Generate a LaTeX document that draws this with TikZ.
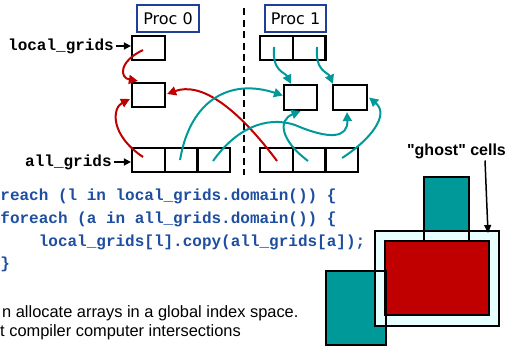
\documentclass[tikz,border=0pt]{standalone}
\usepackage{fontspec}
\setmainfont{Liberation Sans}
\newfontfamily\codefont{Liberation Mono}
\newfontfamily\procfont{DejaVu Sans}
\usetikzlibrary{arrows.meta}
\definecolor{codeblue}{HTML}{1F4EA0}
\definecolor{procblue}{HTML}{1F3F99}
\definecolor{gred}{HTML}{C00000}
\definecolor{gteal}{HTML}{009999}
\definecolor{gcyan}{HTML}{E8FFFF}
\begin{document}
\begin{tikzpicture}[x=1pt,y=-1pt,
  cell/.style={draw=black,line width=2.2pt,minimum width=33pt,minimum height=24pt,inner sep=0pt},
  acell/.style={cell,minimum width=32.7pt},
  procbox/.style={draw=procblue,line width=2pt,fill=white,minimum width=62pt,minimum height=27pt,inner sep=0pt,font=\procfont\fontsize{16}{18}\selectfont},
  code/.style={text=codeblue,inner sep=0pt,anchor=base west,font=\codefont\bfseries\fontsize{16}{20}\selectfont},
  lbl/.style={text=black,inner sep=0pt,anchor=base west,font=\codefont\bfseries\fontsize{16}{20}\selectfont},
  plain/.style={inner sep=0pt,anchor=base west,font=\fontsize{16.4}{19}\selectfont},
  lblarrow/.style={-{Triangle[length=7pt,width=7pt]},line width=1.6pt,shorten <=2pt},
  redarrow/.style={-{Triangle[length=9pt,width=9pt]},line width=2pt,draw=gred},
  tealarrow/.style={-{Triangle[length=9pt,width=9pt]},line width=2pt,draw=gteal},
  area/.style={inner sep=0pt,outer sep=0pt}
]
\useasboundingbox (0,0) rectangle (508,348);

% dashed separator
\coordinate (dtop) at (244,8);
\coordinate (dbot) at (244,175);
\draw[line width=2pt,dash pattern=on 7pt off 4.5pt] (dtop) -- (dbot);

% processor labels
\node[procbox] (proc0) at (168,18.5) {Proc 0};
\node[procbox,minimum width=61pt] (proc1) at (295.5,18.5) {Proc 1};

% Proc 0 grids
\node[cell] (p0l) at (148.5,48) {};
\node[cell] (p0m) at (148.5,95) {};
\node[acell] (p0a1) at (148.35,160) {};
\node[acell] (p0a2) at (181.05,160) {};
\node[acell] (p0a3) at (213.75,160) {};

% Proc 1 grids
\node[acell] (p1l1) at (276.35,48) {};
\node[acell] (p1l2) at (309.05,48) {};
\node[cell,minimum height=25pt] (p1mA) at (300.5,97.5) {};
\node[cell,minimum width=34pt,minimum height=25pt] (p1mB) at (350,97.5) {};
\node[acell] (p1a1) at (276.35,160) {};
\node[acell] (p1a2) at (309.05,160) {};
\node[acell] (p1a3) at (341.75,160) {};

% labels
\node[lbl] (lg) at (8,50.5) {local\_grids};
\node[lbl] (ag) at (25,166) {all\_grids};
\coordinate (lgend) at ([shift={(0,-2)}]p0l.west);
\coordinate (agend) at ([shift={(0,2)}]p0a1.west);
\draw[lblarrow] (lg.east |- lgend) -- (lgend);
\draw[lblarrow] (ag.east |- agend) -- (agend);

% red connectors
\draw[redarrow] ([shift={(-5.5,2)}]p0l.center) .. controls (118,62) and (120,78) .. ([shift={(7,-1)}]p0m.north west);
\draw[redarrow] ([shift={(-5.3,-3)}]p0a1.center) .. controls (110,135) and (112,108) .. ([shift={(-1,4)}]p0m.west);
\draw[redarrow] ([shift={(0.7,1)}]p1a1.center) .. controls (235,105) and (200,82) .. ([shift={(1,-1)}]p0m.east);

% teal connectors
\draw[tealarrow] ([shift={(-1,0)}]p0a2.center) .. controls (190,100) and (230,78) .. ([shift={(0,-2)}]p1mA.west);
\draw[tealarrow] ([shift={(-0.7,1)}]p0a3.center) .. controls (235,130) and (265,115) .. (295,125)
   .. controls (330,140) and (348,138) .. ([shift={(-3,1)}]p1mB.south);
\draw[tealarrow] ([shift={(-1,1)}]p1a2.center) .. controls (280,140) and (278,120) .. (p1mA.south);
\draw[tealarrow] ([shift={(0.3,-2)}]p1a3.center) .. controls (370,140) and (390,115) .. ([shift={(1,0)}]p1mB.east);
\draw[tealarrow] ([shift={(-2.3,-1)}]p1l1.center) .. controls (272,72) and (285,72) .. ([shift={(-9.5,0)}]p1mA.north);
\draw[tealarrow] ([shift={(8,-1)}]p1l2.center) .. controls (315,72) and (328,72) .. ([shift={(1,0)}]p1mB.north west);

% code
\node[code] (c1) at (0.2,200.7) {reach (l in local\_grids.domain()) \{};
\node[code] (c2) at (0.2,223.5) {foreach (a in all\_grids.domain()) \{};
\node[code] (c3) at (38.6,246) {local\_grids[l].copy(all\_grids[a]);};
\node[code] (c4) at (0.2,268.5) {\}};

% bottom text
\node[plain] (t1) at (2,317) {n allocate arrays in a global index space.};
\node[plain] (t2) at (0,336) {t compiler computer intersections};

% ghost cells figure
\node[area,fill=gteal,minimum width=45pt,minimum height=64pt] (tealtop) at (446.5,209) {};
\node[area,fill=gteal,minimum width=60pt,minimum height=74pt] (tealbl) at (356,308) {};
\node[area,fill=gcyan,minimum width=124pt,minimum height=95pt] (ghostbox) at (437,278.5) {};
\node[area,fill=gred,minimum width=104pt,minimum height=74pt] (redbox) at (437,278) {};
\draw[line width=1.8pt] (tealtop.north west) rectangle (tealtop.south east);
\draw[line width=1.8pt] (tealbl.north west) rectangle (tealbl.south east);
\draw[line width=1.8pt] (ghostbox.north west) rectangle (ghostbox.south east);
\draw[line width=1.8pt] (redbox.north west) rectangle (redbox.south east);

\node[inner sep=0pt,anchor=base,font=\bfseries\fontsize{16}{19}\selectfont] (ghostlbl) at (456.5,155.5) {\textquotedbl ghost\textquotedbl{} cells};
\coordinate (gstart) at ([shift={(28.5,5)}]ghostlbl.base);
\coordinate (gend) at ([shift={(-11,2)}]ghostbox.north east);
\draw[-{Triangle[length=8pt,width=7pt]},line width=1.5pt] (gstart) -- (gend);
\end{tikzpicture}
\end{document}
